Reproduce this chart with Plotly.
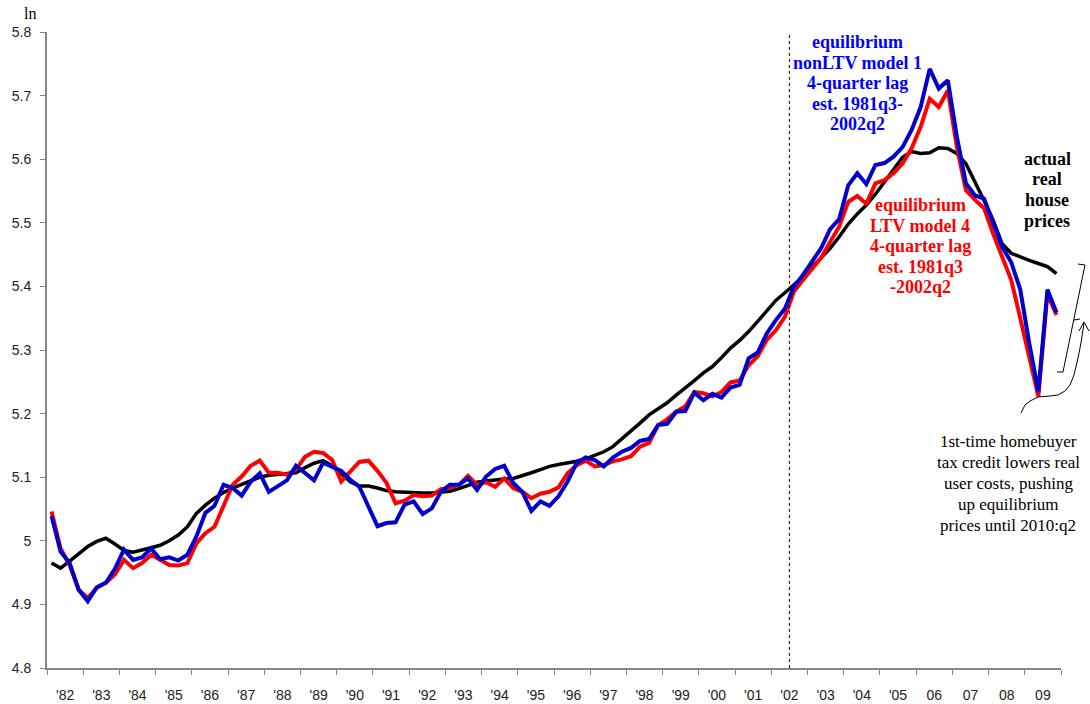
import pandas as pd
import plotly.graph_objects as go

# quarterly, 1982q1 .. 2009q4 (log real house prices)
quarters = pd.period_range("1982Q1", "2009Q4", freq="Q")

actual = [
    4.965, 4.957, 4.968, 4.980, 4.991, 4.999, 5.004, 4.995,  # 82-83
    4.985, 4.982, 4.985, 4.989, 4.993, 5.000, 5.009, 5.022,  # 84-85
    5.043, 5.056, 5.067, 5.076, 5.083, 5.089, 5.094, 5.100,  # 86-87
    5.103, 5.104, 5.105, 5.107, 5.115, 5.122, 5.126, 5.118,  # 88-89
    5.105, 5.093, 5.086, 5.086, 5.083, 5.079, 5.077, 5.076,  # 90-91
    5.075, 5.075, 5.075, 5.076, 5.078, 5.082, 5.087, 5.092,  # 92-93
    5.094, 5.096, 5.097, 5.098, 5.102, 5.107, 5.112, 5.117,  # 94-95
    5.120, 5.122, 5.125, 5.129, 5.134, 5.140, 5.148, 5.160,  # 96-97
    5.172, 5.185, 5.198, 5.207, 5.217, 5.229, 5.240, 5.252,  # 98-99
    5.264, 5.274, 5.288, 5.303, 5.315, 5.329, 5.345, 5.362,  # 00-01
    5.378, 5.390, 5.402, 5.415, 5.430, 5.445, 5.460, 5.478,  # 02-03
    5.498, 5.514, 5.528, 5.545, 5.565, 5.585, 5.603, 5.612,  # 04-05
    5.609, 5.610, 5.618, 5.617, 5.609, 5.593, 5.565, 5.535,  # 06-07
    5.504, 5.467, 5.452, 5.446, 5.441, 5.436, 5.431, 5.420,  # 08-09
]

ltv4 = [
    5.046, 4.988, 4.962, 4.923, 4.910, 4.926, 4.934, 4.947,
    4.970, 4.957, 4.965, 4.978, 4.970, 4.962, 4.961, 4.965,
    4.996, 5.012, 5.022, 5.054, 5.088, 5.101, 5.118, 5.126,
    5.107, 5.107, 5.104, 5.112, 5.132, 5.140, 5.138, 5.127,
    5.093, 5.109, 5.124, 5.126, 5.110, 5.091, 5.059, 5.063,
    5.072, 5.070, 5.071, 5.081, 5.083, 5.088, 5.102, 5.088,
    5.092, 5.085, 5.098, 5.083, 5.077, 5.067, 5.074, 5.077,
    5.084, 5.106, 5.119, 5.126, 5.117, 5.119, 5.125, 5.128,
    5.133, 5.148, 5.154, 5.182, 5.191, 5.203, 5.211, 5.234,
    5.232, 5.227, 5.234, 5.249, 5.252, 5.276, 5.290, 5.316,
    5.331, 5.352, 5.392, 5.410, 5.428, 5.445, 5.470, 5.494,
    5.533, 5.542, 5.530, 5.562, 5.567, 5.578, 5.593, 5.617,
    5.651, 5.695, 5.682, 5.708, 5.619, 5.551, 5.536, 5.523,
    5.483, 5.447, 5.410, 5.350, 5.285, 5.227, 5.388, 5.355,
]

nonltv1 = [
    5.039, 4.983, 4.965, 4.923, 4.905, 4.927, 4.934, 4.956,
    4.986, 4.970, 4.974, 4.988, 4.971, 4.974, 4.969, 4.978,
    5.007, 5.044, 5.055, 5.088, 5.083, 5.071, 5.093, 5.106,
    5.077, 5.086, 5.095, 5.118, 5.106, 5.095, 5.123, 5.117,
    5.110, 5.096, 5.085, 5.054, 5.023, 5.028, 5.029, 5.057,
    5.062, 5.042, 5.051, 5.077, 5.088, 5.088, 5.098, 5.080,
    5.101, 5.113, 5.118, 5.091, 5.077, 5.047, 5.062, 5.055,
    5.070, 5.093, 5.122, 5.131, 5.127, 5.117, 5.131, 5.140,
    5.146, 5.157, 5.160, 5.182, 5.184, 5.203, 5.204, 5.233,
    5.221, 5.231, 5.225, 5.241, 5.245, 5.287, 5.296, 5.326,
    5.347, 5.365, 5.400, 5.418, 5.440, 5.460, 5.490, 5.506,
    5.559, 5.578, 5.561, 5.591, 5.594, 5.604, 5.619, 5.646,
    5.682, 5.742, 5.711, 5.724, 5.635, 5.562, 5.543, 5.538,
    5.500, 5.462, 5.438, 5.395, 5.310, 5.234, 5.395, 5.359,
]

year_labels = ["'82", "'83", "'84", "'85", "'86", "'87", "'88", "'89", "'90",
               "'91", "'92", "'93", "'94", "'95", "'96", "'97", "'98", "'99",
               "'00", "'01", "'02", "'03", "'04", "'05", "06", "07", "08", "09"]
first_year = 1982
y_ticks = [4.8, 4.9, 5.0, 5.1, 5.2, 5.3, 5.4, 5.5, 5.6, 5.7, 5.8]
y_ticktext = ["4.8", "4.9", "5", "5.1", "5.2", "5.3", "5.4", "5.5", "5.6", "5.7", "5.8"]
est_end = 2002.5  # end of estimation sample (2002q2)

x = [q.year + (q.quarter - 0.5) / 4 for q in quarters]

W, H = 1090, 704
ML, MR, MT, MB = 47, 29, 32, 36
AX = "#868686"
SERIF = "Liberation Serif, Times New Roman, serif"
SANS = "Liberation Sans, Arial, sans-serif"


def px(xp):
    return (xp - ML) / (W - ML - MR)


def py(yp):
    return (H - MB - yp) / (H - MT - MB)


def path(points):
    return "M " + " L ".join(f"{px(a):.5f},{py(b):.5f}" for a, b in points)


fig = go.Figure()
fig.add_trace(go.Scatter(x=x, y=actual, mode="lines", name="actual",
                         line=dict(color="black", width=3.5)))
fig.add_trace(go.Scatter(x=x, y=ltv4, mode="lines", name="LTV model 4",
                         line=dict(color="#ff0000", width=4)))
fig.add_trace(go.Scatter(x=x, y=nonltv1, mode="lines", name="nonLTV model 1",
                         line=dict(color="#0000cc", width=4)))

years = list(range(first_year, first_year + len(year_labels) + 1))
fig.update_xaxes(
    range=[years[0], years[-1]], automargin=False,
    tickvals=[yr + 0.5 for yr in years[:-1]], ticktext=year_labels,
    ticks="", showgrid=False, zeroline=False,
    showline=True, linecolor=AX, linewidth=2,
    minor=dict(tickvals=years, ticks="outside", ticklen=5, tickcolor=AX, tickwidth=1),
    tickfont=dict(family=SANS, size=14, color="#222"),
    ticklabelstandoff=13,
)
fig.update_yaxes(
    range=[4.8, 5.8], tickvals=y_ticks, ticktext=y_ticktext, automargin=False,
    ticks="outside", ticklen=5, tickcolor=AX, tickwidth=1,
    showgrid=False, zeroline=False,
    showline=True, linecolor=AX, linewidth=2,
    tickfont=dict(family=SANS, size=14, color="#222"),
    ticklabelstandoff=6,
)

shapes = [
    dict(type="line", xref="x", yref="paper", x0=est_end, x1=est_end, y0=0, y1=1,
         line=dict(color="black", width=1, dash="dot")),
    # bracket
    dict(type="path", xref="paper", yref="paper",
         path=path([(1078, 264), (1085, 265), (1063, 372), (1057, 372)]),
         line=dict(color="black", width=1)),
    dict(type="path", xref="paper", yref="paper",
         path=path([(1074, 320), (1080, 319)]),
         line=dict(color="black", width=1)),
    # curved arrow
    dict(type="path", xref="paper", yref="paper",
         path=path([(1021, 413), (1025, 405), (1030, 401), (1038, 397), (1050, 396),
                    (1058, 395), (1065, 391), (1070, 385), (1074, 375), (1078, 358),
                    (1081, 343), (1084, 323)]),
         line=dict(color="black", width=1)),
    dict(type="path", xref="paper", yref="paper",
         path=path([(1079, 331), (1084, 322), (1089, 331)]),
         line=dict(color="black", width=1)),
]

annotations = [
    dict(text="ln", xref="paper", yref="paper", x=px(23), y=py(14),
         showarrow=False, borderpad=0, yanchor="middle",
         font=dict(family=SERIF, size=16, color="black")),
]


def text_block(lines, cx, y0, step, color, size=18, bold=True):
    for k, t in enumerate(lines):
        annotations.append(dict(
            text=f"<b>{t}</b>" if bold else t, xref="paper", yref="paper",
            x=px(cx), y=py(y0 + k * step), showarrow=False,
            xanchor="center", yanchor="middle", borderpad=0,
            font=dict(family=SERIF, size=size, color=color)))


text_block(["equilibrium", "nonLTV model 1", "4-quarter lag", "est. 1981q3-", "2002q2"],
           857, 42, 20.6, "#0000ff")
text_block(["equilibrium", "LTV model 4", "4-quarter lag", "est. 1981q3", "-2002q2"],
           920, 205, 20.6, "#ff0000")
text_block(["actual", "real", "house", "prices"], 1047, 159, 20.5, "black")
text_block(["1st-time homebuyer", "tax credit lowers real", "user costs, pushing",
            "up equilibrium", "prices until 2010:q2"], 1008, 441, 21.2, "black",
           size=17, bold=False)

fig.update_layout(
    width=W, height=H,
    margin=dict(l=ML, r=MR, t=MT, b=MB, autoexpand=False),
    paper_bgcolor="white", plot_bgcolor="white",
    showlegend=False,
    shapes=shapes, annotations=annotations,
)

# page body has a default 8px margin; drop it so the figure sits at (0, 0)
fig.write_html("out.html",
               config={"displayModeBar": False},
               post_script="document.body.style.margin='0';"
                           "document.body.style.overflow='hidden';")
